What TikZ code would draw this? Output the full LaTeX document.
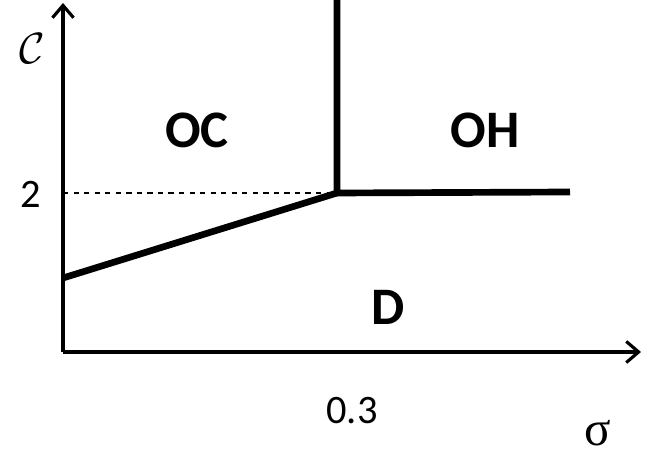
\documentclass[tikz,border=0pt]{standalone}
\usepackage{amsmath,amssymb}
\usepackage{fontspec}
\setsansfont{Carlito}
\newfontfamily\greekfont{Liberation Serif}
\usetikzlibrary{arrows.meta,positioning,calc}

\begin{document}
\begin{tikzpicture}[>={Straight Barb[length=7pt,width=12pt,line width=1.8pt]},x=0.02cm,y=-0.02cm]
    \useasboundingbox (0,0) rectangle (660,455);

    % axes
    \coordinate (O) at (63,352);
    \coordinate (ytop) at (63,3);
    \coordinate (xend) at (641,352);
    \draw[->,line width=2pt] (O) -- (ytop);
    \draw[->,line width=2pt] (O) -- (xend);
    \node (clab) at (32,49) {\fontsize{26}{30}\selectfont$\mathcal{C}$};
    \node (sig) at (598,433) {\fontsize{28}{30}\greekfont σ};

    % ticks
    \node[font=\sffamily\fontsize{23}{26}\selectfont] (two) at (31,194) {2};
    \node[font=\sffamily\fontsize{23}{26}\selectfont] (thr) at (352,411) {0.3};

    % phase boundaries
    \coordinate (tri) at (337,193);
    \coordinate (ytwo) at (63,193);
    \coordinate (low) at (63,278);
    \coordinate (top) at (337,0);
    \coordinate (right) at (570,192);
    \draw[dashed,line width=0.6pt] (ytwo) -- (tri);
    \draw[line width=3.8pt] (low) -- (tri);
    \draw[line width=3.8pt] (top) -- (tri) -- (right);

    % phases
    \node[font=\sffamily\bfseries\fontsize{30}{34}\selectfont] (oc) at (197,130) {OC};
    \node[font=\sffamily\bfseries\fontsize{30}{34}\selectfont] (oh) at (485,130) {OH};
    \node[font=\sffamily\bfseries\fontsize{30}{34}\selectfont] (d) at (388,307) {D};
\end{tikzpicture}
\end{document}
